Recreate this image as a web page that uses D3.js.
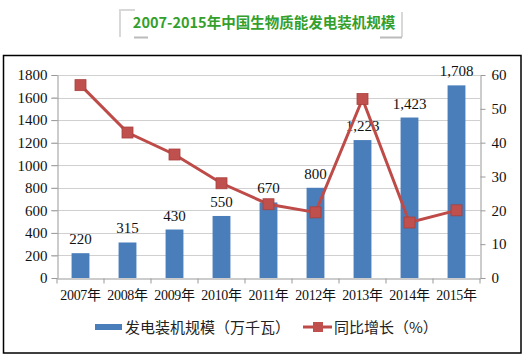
<!DOCTYPE html>
<html><head><meta charset="utf-8">
<script src="https://cdn.jsdelivr.net/npm/d3@7"></script>
<style>body{margin:0;background:#fff}svg{display:block}</style>
</head><body>
<script>
const categories = ["2007年","2008年","2009年","2010年","2011年","2012年","2013年","2014年","2015年"];
const capacity = [220,315,430,550,670,800,1223,1423,1708];
const capacityLabels = ["220","315","430","550","670","800","1,223","1,423","1,708"];
const growth = [57,43,36.5,28,21.8,19.4,52.9,16.4,20.0];
const leftTicks = [0,200,400,600,800,1000,1200,1400,1600,1800];
const rightTicks = [0,10,20,30,40,50,60];
const title = "2007-2015年中国生物质能发电装机规模";
const legendBar = "发电装机规模（万千瓦）";
const legendLine = "同比增长（%）";

const W=530,H=357;
const svg=d3.select("body").append("svg").attr("width",W).attr("height",H);
const serif="'Liberation Serif','Times New Roman','Noto Sans CJK SC',serif";
const cjk="'Noto Sans CJK SC',sans-serif";

// title frame
const fr=svg.append("g").attr("stroke","#d8d8d8").attr("stroke-width",2).attr("fill","none");
fr.append("path").attr("d","M135,10 H120 V37");
fr.append("path").attr("d","M402,12 V37");
fr.append("path").attr("d","M134,37.5 H148").attr("stroke","#bbb");
fr.append("path").attr("d","M380,37.5 H402").attr("stroke","#bbb");
svg.append("text").attr("x",264).attr("y",28).attr("text-anchor","middle")
  .attr("font-family",cjk).attr("font-weight","bold").attr("font-size",14.5)
  .attr("fill","#34a02c").text(title);

// outer box
svg.append("rect").attr("x",3.5).attr("y",55.5).attr("width",517.5).attr("height",297.5)
  .attr("fill","none").attr("stroke","#000").attr("stroke-width",1.5);

const x0=57,x1=480,yTop=75,yBot=278;
const x=d3.scaleBand().domain(categories).range([x0,x1]).paddingInner(0.62).paddingOuter(0.31);
const xc=d3.scaleBand().domain(categories).range([x0,x1]);
const yL=d3.scaleLinear().domain([0,1800]).range([yBot,yTop]);
const yR=d3.scaleLinear().domain([0,60]).range([yBot,yTop]);

// gridlines
svg.append("g").selectAll("line").data(leftTicks.slice(1)).join("line")
  .attr("x1",x0-6).attr("x2",x1).attr("y1",d=>Math.round(yL(d))+0.5).attr("y2",d=>Math.round(yL(d))+0.5)
  .attr("stroke","#d0d0d0").attr("stroke-width",1);

// left axis
const gl=svg.append("g").attr("transform",`translate(${x0+0.5},0)`)
  .call(d3.axisLeft(yL).tickValues(leftTicks).tickFormat(d3.format("d")).tickSize(6).tickPadding(4).tickSizeOuter(0));
// right axis
const gr=svg.append("g").attr("transform",`translate(${x1+0.5},0)`)
  .call(d3.axisRight(yR).tickValues(rightTicks).tickFormat(d3.format("d")).tickSize(5).tickPadding(6).tickSizeOuter(0));
// bottom axis
const gb=svg.append("g").attr("transform",`translate(0,${yBot+0.5})`)
  .call(d3.axisBottom(xc).tickSize(0).tickPadding(12).tickSizeOuter(0));
gb.selectAll(".tick").append("line").attr("x1",-xc.bandwidth()/2).attr("x2",-xc.bandwidth()/2).attr("y2",5).attr("stroke","#999");
gb.append("line").attr("x1",x1).attr("x2",x1).attr("y2",5).attr("stroke","#999");
[gl,gr,gb].forEach(g=>{
  g.select(".domain").attr("stroke","#999");
  g.selectAll(".tick line").attr("stroke","#999");
  g.selectAll("text").attr("font-family",serif).attr("font-size",15).attr("fill","#111");
});
gb.selectAll("text").attr("font-size",14).attr("letter-spacing","-0.3");

// bars
svg.append("g").selectAll("rect").data(capacity).join("rect")
  .attr("x",(d,i)=>x(categories[i])).attr("width",x.bandwidth())
  .attr("y",d=>yL(d)).attr("height",d=>yBot-yL(d)).attr("fill","#4a7ebb");

// bar labels
svg.append("g").selectAll("text").data(capacity).join("text")
  .attr("x",(d,i)=>xc(categories[i])+xc.bandwidth()/2).attr("y",d=>yL(d)-9)
  .attr("text-anchor","middle").attr("font-family",serif).attr("font-size",15).attr("fill","#111")
  .text((d,i)=>capacityLabels[i]);

// line
const line=d3.line().x((d,i)=>xc(categories[i])+xc.bandwidth()/2).y(d=>yR(d));
svg.append("path").datum(growth).attr("d",line).attr("fill","none").attr("stroke","#be4b48").attr("stroke-width",3);
svg.append("g").selectAll("rect").data(growth).join("rect")
  .attr("x",(d,i)=>xc(categories[i])+xc.bandwidth()/2-5.5).attr("y",d=>yR(d)-5.5)
  .attr("width",11).attr("height",11).attr("fill","#c0504d").attr("stroke","#a8403d").attr("stroke-width",0.8);

// legend
const ly=327;
svg.append("rect").attr("x",95).attr("y",ly-3).attr("width",27).attr("height",6).attr("fill","#4a7ebb");
svg.append("text").attr("x",125).attr("y",ly+5.5).attr("font-family",cjk).attr("font-size",15).attr("fill","#222").text(legendBar);
svg.append("line").attr("x1",303).attr("x2",332).attr("y1",ly).attr("y2",ly).attr("stroke","#be4b48").attr("stroke-width",3);
svg.append("rect").attr("x",313).attr("y",ly-5).attr("width",10).attr("height",10).attr("fill","#c0504d");
svg.append("text").attr("x",334).attr("y",ly+5.5).attr("font-family",cjk).attr("font-size",15).attr("fill","#222").text(legendLine);
</script>
</body></html>
